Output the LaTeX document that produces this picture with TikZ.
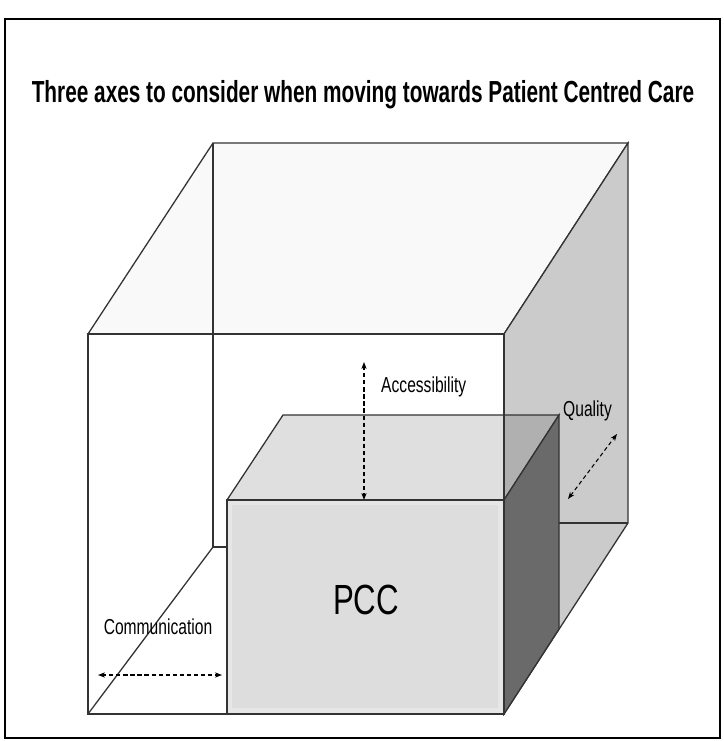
\documentclass[tikz,border=0pt]{standalone}
\usepackage{fontspec}
\setmainfont{Liberation Sans}
\usetikzlibrary{arrows.meta}
\definecolor{lidgrey}{HTML}{F9F9F9}
\definecolor{sidegrey}{HTML}{CBCBCB}
\definecolor{boxgrey}{HTML}{DDDDDD}
\definecolor{boxrim}{HTML}{E6E6E6}
\definecolor{boxtop}{HTML}{DFDFDF}
\definecolor{boxoverlap}{HTML}{B0B0B0}
\definecolor{boxside}{HTML}{6A6A6A}
\newcommand{\squeeze}[2][0.72]{\scalebox{#1}[1]{#2}}
\tikzset{
  edge/.style={draw=black!80, line width=1.1pt},
  axis/.style={dash pattern=on 3.5pt off 2.5pt, line width=0.9pt,
    {Stealth[length=6pt,width=4.5pt]}-{Stealth[length=6pt,width=4.5pt]}},
  axislabel/.style={font=\fontsize{18.5}{20}\selectfont, inner sep=0pt}
}

\begin{document}
\begin{tikzpicture}[x=0.03cm, y=-0.03cm]
\useasboundingbox (0,0) rectangle (723,741);
\draw[line width=2.4pt] (5,19) rectangle (720,738);

\node (title) at (363,95) {\fontsize{26}{30}\selectfont\bfseries
  \squeeze[0.683]{Three axes to consider when moving towards Patient Centred Care}};

% outer cube corners
\coordinate (ftl) at (88,334);
\coordinate (ftr) at (504,334);
\coordinate (fbl) at (88,714);
\coordinate (fbr) at (504,714);
\coordinate (btl) at (213,143);
\coordinate (btr) at (628,143);
\coordinate (bbl) at (213,547);
\coordinate (bbr) at (628,523);

% inner box corners
\coordinate (pftl) at (227,500);
\coordinate (pftr) at (504,500);
\coordinate (pfbl) at (227,714);
\coordinate (pfbr) at (504,714);
\coordinate (pbtl) at (283,415);
\coordinate (pbtr) at (559,415);
\coordinate (pbbr) at (559,629);

% outer cube
\filldraw[edge, fill=lidgrey] (ftl) -- (btl) -- (btr) -- (ftr) -- cycle;
\filldraw[edge, fill=sidegrey] (ftr) -- (btr) -- (bbr) -- (fbr) -- cycle;
\filldraw[edge, fill=white] (ftl) rectangle (fbr);
\draw[edge] (btl) -- (bbl) -- (bbl -| pftl);
\draw[edge] (bbl) -- (fbl);
\draw[edge] (bbr) -- (bbr -| pbtr);

% inner box
\fill[boxtop] (pftl) -- (pbtl) -- (pbtr) -- (pftr) -- cycle;
\fill[boxoverlap] (pbtr -| ftr) -- (pbtr) -- (pftr) -- cycle;
\draw[edge] (ftr) -- (pftr);
\draw[edge] (pftl) -- (pbtl) -- (pbtr) -- (pftr);
\filldraw[edge, fill=boxside] (pftr) -- (pbtr) -- (pbbr) -- (pfbr) -- cycle;
\filldraw[edge, fill=boxrim] (pftl) rectangle (pfbr);
\fill[boxgrey] ([shift={(5,5)}]pftl) rectangle ([shift={(-6,-6)}]pfbr);

\node (pcc) at (366,600) {\fontsize{36}{40}\selectfont\squeeze[0.74]{PCC}};

% the three axes
\coordinate (acc) at (364,362);
\coordinate (qlo) at (568,499);
\coordinate (qhi) at (617,434);
\coordinate (cleft) at (98,675);
\coordinate (cright) at (222,675);
\draw[axis] (acc) -- (acc |- pftl);
\draw[axis] (qlo) -- (qhi);
\draw[axis] (cleft) -- (cright);

\node[axislabel, anchor=west] (acclabel) at (381,387) {\squeeze{Accessibility}};
\node[axislabel, anchor=west] (qlabel) at (563,411) {\squeeze{Quality}};
\node[axislabel] (clabel) at (158,627) {\squeeze{Communication}};
\end{tikzpicture}
\end{document}
